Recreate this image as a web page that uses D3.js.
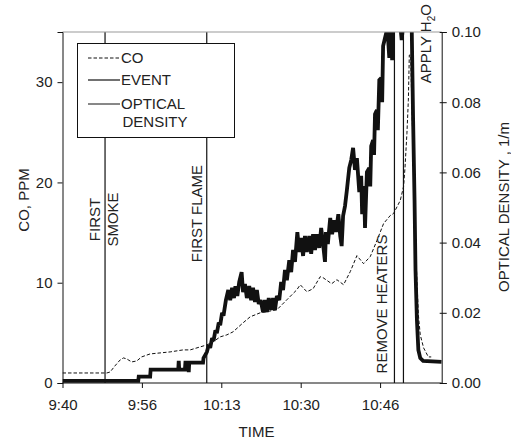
<!DOCTYPE html>
<html><head><meta charset="utf-8">
<script src="https://cdn.jsdelivr.net/npm/d3@7"></script>
<style>
body{margin:0;background:#fff}
svg{display:block}
text{font-family:"Liberation Sans",Arial,sans-serif;fill:#222}
</style>
</head><body><svg id="c" width="511" height="444"></svg>
<script>
// ---- data (time in minutes after 9:40) ----
const xTickValues = [0, 16.667, 33.333, 50, 66.667];
const xTickLabels = ["9:40", "9:56", "10:13", "10:30", "10:46"];
const coTicks = [0, 10, 20, 30];
const odTicks = [0, 0.02, 0.04, 0.06, 0.08, 0.10];

const coTime = [0, 9.3, 10.0, 11.0, 12.1, 12.8, 13.5, 14.5, 15.6, 16.6, 18.4, 20.5, 22.6, 25.3, 26.8, 28.9, 30.3, 31.6, 33.1, 34.5, 35.8, 37.9, 39.4, 41.5, 45.0, 47.1, 49.2, 49.9, 51.3, 52.6, 54.1, 54.7, 56.5, 57.6, 59.0, 60.4, 61.8, 63.2, 64.6, 66.0, 67.4, 68.8, 69.5, 70.9, 71.6, 71.9, 72.3, 72.6, 72.8, 73.1, 73.3, 73.7, 74.0, 74.4, 74.7, 75.1, 75.8, 76.8, 77.4];
const coPPM  = [1.0, 1.0, 1.1, 1.7, 2.3, 2.5, 2.4, 2.1, 2.2, 2.6, 2.9, 3.0, 3.1, 3.3, 3.3, 3.6, 3.8, 4.1, 4.6, 4.8, 5.1, 6.0, 6.6, 7.0, 7.3, 8.3, 9.3, 9.8, 9.1, 9.4, 10.6, 10.5, 9.9, 10.3, 9.8, 11.1, 12.7, 11.9, 12.6, 14.2, 15.9, 16.7, 16.9, 18.2, 19.6, 21.5, 24.9, 28.2, 32.7, 32.7, 28.2, 21.5, 14.9, 10.3, 6.8, 4.8, 3.5, 2.6, 2.6];

const odTime = [0, 15.9, 16.0, 18.4, 18.5, 24.3, 24.4, 24.5, 25.7, 25.8, 26.4, 26.5, 26.6, 29.5, 29.6, 30.3, 30.7, 31.0, 31.4, 31.7, 32.1, 32.4, 32.8, 33.1, 33.5, 33.8,
  34.3, 34.8, 35.2, 35.6, 36.0, 36.3, 36.7, 37.1, 37.6, 37.9, 38.3, 38.7, 39.2, 39.6, 40.0, 40.4, 40.8, 41.2, 41.6, 42.1, 42.5, 42.9, 43.3, 43.8, 44.2, 44.6, 45.0, 45.5, 45.9, 46.3, 46.7, 47.1, 47.6, 48.0, 48.4, 48.8, 49.3, 49.7, 50.1, 50.5, 50.9, 51.3, 51.8, 52.2, 52.6, 53.0, 53.4, 53.9, 54.3, 54.7, 55.1, 55.3, 55.7, 56.2, 56.6, 57.0, 57.4, 57.9, 58.3, 58.6, 58.9, 59.3, 59.7, 60.2, 60.6, 61.0, 61.4, 61.8, 62.3, 62.7, 62.9, 63.3, 63.5, 63.9, 64.4, 64.6, 64.8, 65.2, 65.4, 65.6, 66.0, 66.2, 66.5, 66.9, 67.1, 67.3, 67.7, 68.2, 68.6, 68.9, 69.2, 69.4, 70.9, 71.2, 71.5, 73.3, 73.6, 73.9, 74.1, 74.4, 74.7, 75.1, 75.7, 79.6];
const odValue = [0.0006, 0.0006, 0.0018, 0.0018, 0.0038, 0.0038, 0.0063, 0.0038, 0.0038, 0.0058, 0.0058, 0.0031, 0.0058, 0.0058, 0.0071, 0.0088, 0.0108, 0.0100, 0.0128, 0.0120, 0.0150, 0.0142, 0.0172, 0.0165, 0.0200, 0.0192,
  0.0236, 0.0265, 0.0236, 0.0271, 0.0242, 0.0276, 0.0248, 0.0288, 0.0316, 0.0259, 0.0282, 0.0242, 0.0276, 0.0236, 0.0271, 0.0231, 0.0265, 0.0225, 0.0236, 0.0202, 0.0236, 0.0202, 0.0242, 0.0208, 0.0242, 0.0208, 0.0248, 0.0236, 0.0288, 0.0265, 0.0322, 0.0293, 0.0350, 0.0316, 0.0379, 0.0345, 0.0430, 0.0373, 0.0413, 0.0362, 0.0419, 0.0373, 0.0419, 0.0368, 0.0424, 0.0379, 0.0424, 0.0385, 0.0442, 0.0396, 0.0345, 0.0430, 0.0396, 0.0470, 0.0424, 0.0464, 0.0430, 0.0481, 0.0419, 0.0390, 0.0476, 0.0504, 0.0550, 0.0613, 0.0635, 0.0670, 0.0607, 0.0641, 0.0544, 0.0590, 0.0481, 0.0561, 0.0442, 0.0601, 0.0613, 0.0560, 0.0675, 0.0692, 0.0650, 0.0766, 0.0778, 0.0720, 0.0863, 0.0869, 0.0800, 0.0960, 0.0983, 0.1011, 0.0926, 0.1006, 0.0920, 0.1020, 0.1020, 0.0977, 0.1020, 0.1020, 0.0749, 0.0521, 0.0322, 0.0179, 0.0094, 0.0071, 0.0063, 0.0060];

const eventNames = ["FIRST SMOKE", "FIRST FLAME", "REMOVE HEATERS", "APPLY H2O"];
const eventTime = [8.93, 30.28, 69.68, 71.57];

const legendLabels = ["CO", "EVENT", "OPTICAL", "DENSITY"];

// ---- layout ----
const L = 62.5, R = 441.7, T = 32, B = 383;
const svg = d3.select("#c");
const x = d3.scaleLinear().domain([0, 79.6]).range([L, R]);
const yCO = d3.scaleLinear().domain([0, 35]).range([B, T]);
const yOD = d3.scaleLinear().domain([0, 0.10]).range([B, T]);

svg.append("defs").append("clipPath").attr("id", "clip")
  .append("rect").attr("x", L).attr("y", T).attr("width", R - L).attr("height", B - T);

const plot = svg.append("g").attr("clip-path", "url(#clip)");

// event lines
plot.selectAll("line.ev").data(eventTime).join("line")
  .attr("x1", d => x(d)).attr("x2", d => x(d))
  .attr("y1", T).attr("y2", B)
  .attr("stroke", "#111").attr("stroke-width", 1.2);

// CO dashed
const coData = coTime.map((t, i) => [t, coPPM[i]]);
plot.append("path").datum(coData)
  .attr("d", d3.line().x(d => x(d[0])).y(d => yCO(d[1])))
  .attr("fill", "none").attr("stroke", "#111").attr("stroke-width", 1)
  .attr("stroke-dasharray", "3.5,2");

// OD thick
const odData = odTime.map((t, i) => [t, odValue[i]]);
plot.append("path").datum(odData)
  .attr("d", d3.line().x(d => x(d[0])).y(d => yOD(d[1])))
  .attr("fill", "none").attr("stroke", "#111").attr("stroke-width", 3.8)
  .attr("stroke-linejoin", "miter").attr("stroke-miterlimit", 2);

// top border (gray)
svg.append("line").attr("x1", L).attr("x2", R).attr("y1", T).attr("y2", T)
  .attr("stroke", "#999").attr("stroke-width", 1);

// axes
const fs = 15;
const axB = svg.append("g").attr("transform", `translate(0,${B})`)
  .call(d3.axisBottom(x).tickValues(xTickValues).tickFormat((d, i) => xTickLabels[i]).tickSizeOuter(0).tickSize(5).tickPadding(11));
const axLt = svg.append("g").attr("transform", `translate(${L},0)`)
  .call(d3.axisLeft(yCO).tickValues(coTicks).tickSizeOuter(0).tickSize(5).tickPadding(5));
const axRt = svg.append("g").attr("transform", `translate(${R},0)`)
  .call(d3.axisRight(yOD).tickValues(odTicks).tickFormat(d3.format(".2f")).tickSizeOuter(0).tickSize(5).tickPadding(5));
axRt.selectAll(".tick line").attr("x1", -2);
[axB, axLt, axRt].forEach(a => {
  a.selectAll("path.domain").attr("stroke", "#111").attr("stroke-width", 1);
  a.selectAll(".tick line").attr("stroke", "#111");
  a.selectAll("text").attr("font-size", fs).attr("fill", "#222")
    .style("font-family", '"Liberation Sans",Arial,sans-serif');
});
axB.select("path.domain").attr("d", `M${L},0H${R}`);

// axis titles
svg.append("text").attr("transform", "translate(28.5,200) rotate(-90)")
  .attr("text-anchor", "middle").attr("font-size", fs).text("CO, PPM");
svg.append("text").attr("transform", "translate(509,207) rotate(-90)")
  .attr("text-anchor", "middle").attr("font-size", fs).text("OPTICAL DENSITY , 1/m");
svg.append("text").attr("x", 256.5).attr("y", 436.5)
  .attr("text-anchor", "middle").attr("font-size", fs).text("TIME");

// event labels
const cap = 5.4;
function vtext(cx, cy, anchor, str) {
  return svg.append("text").attr("transform", `translate(${cx + cap},${cy}) rotate(-90)`)
    .attr("text-anchor", anchor).attr("font-size", fs).text(str);
}
const w0 = eventNames[0].split(" ");
vtext(x(eventTime[0]) - 10, 219.5, "middle", w0[0]);
vtext(x(eventTime[0]) + 8, 219.5, "middle", w0[1]);
vtext(x(eventTime[1]) - 10, 213.5, "middle", eventNames[1]);
vtext(x(eventTime[2]) - 12.6, 304, "middle", eventNames[2]);
const ap = svg.append("text").attr("transform", `translate(${x(eventTime[3]) + 22.4 + cap},83.3) rotate(-90)`)
  .attr("text-anchor", "start").attr("font-size", fs);
const apParts = eventNames[3].match(/^(.*H)(2)(O)$/);
ap.append("tspan").text(apParts[1]);
ap.append("tspan").attr("font-size", 10).attr("dy", 4).text(apParts[2]);
ap.append("tspan").attr("dy", -4).text(apParts[3]);

// legend
const lg = svg.append("g");
lg.append("rect").attr("x", 77.5).attr("y", 43.5).attr("width", 157).attr("height", 94)
  .attr("fill", "#fff").attr("stroke", "#111").attr("stroke-width", 1);
const lgY = [58, 80, 104, 121.5];
lg.append("line").attr("x1", 88).attr("x2", 120).attr("y1", lgY[0]).attr("y2", lgY[0])
  .attr("stroke", "#111").attr("stroke-dasharray", "3.5,2");
lg.append("line").attr("x1", 88).attr("x2", 120).attr("y1", lgY[1]).attr("y2", lgY[1])
  .attr("stroke", "#111").attr("stroke-width", 1.2);
lg.append("line").attr("x1", 88).attr("x2", 120).attr("y1", lgY[2]).attr("y2", lgY[2])
  .attr("stroke", "#111").attr("stroke-width", 1);
legendLabels.forEach((s, i) => {
  lg.append("text").attr("x", i === 3 ? 122.5 : 121).attr("y", lgY[i] + 5.4)
    .attr("font-size", fs).text(s);
});
</script>
</body></html>
